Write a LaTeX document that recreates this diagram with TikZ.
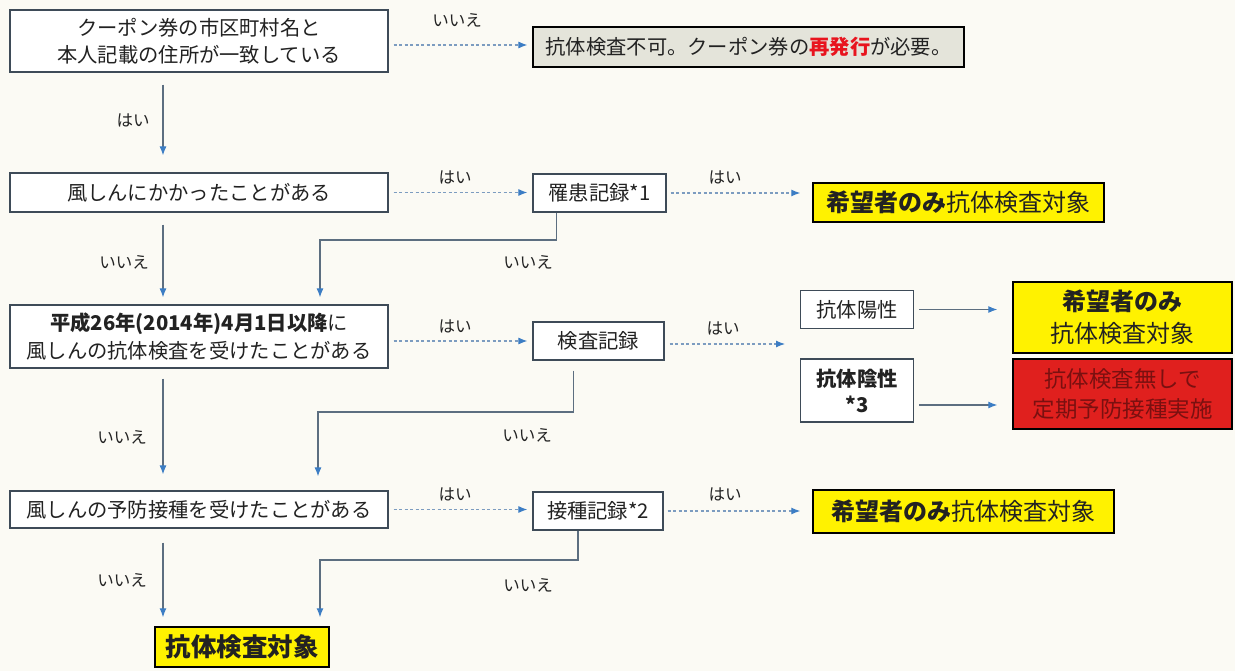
\documentclass[tikz,border=0pt]{standalone}
\usepackage{fontspec}
\setmainfont{Noto Sans CJK JP}
\usetikzlibrary{arrows.meta}
\definecolor{bg}{HTML}{FBFAF4}
\definecolor{edgec}{HTML}{3E4B58}
\definecolor{lineg}{HTML}{5C6E80}
\definecolor{tipb}{HTML}{3C7DC4}
\definecolor{dashb}{HTML}{7C9CC0}
\definecolor{greyfill}{HTML}{E4E4DA}
\definecolor{yel}{HTML}{FFF200}
\definecolor{redf}{HTML}{E0201E}
\definecolor{redt}{HTML}{7A1010}
\definecolor{redword}{HTML}{E8141E}
\definecolor{txt}{HTML}{222222}
\begin{document}
\begin{tikzpicture}[x=1pt,y=-1pt,
  box/.style={draw=edgec,line width=1.2pt,fill=white,inner sep=0pt,align=center,text=txt,font=\fontsize{20.3}{27}\selectfont},
  ybox/.style={box,fill=yel,draw=black,line width=1.5pt},
  lbl/.style={text=txt,font=\fontsize{16.5}{18}\selectfont},
  solarr/.style={draw=lineg,line width=1.1pt,-{Latex[length=9pt,width=7pt,color=tipb]}},
  dasharr/.style={draw=dashb,line width=1.1pt,dash pattern=on 3pt off 2.5pt,-{Latex[length=9pt,width=7pt,color=tipb]}}
]
\fill[bg] (0,0) rectangle (1235,671);
\useasboundingbox (0,0) rectangle (1235,671);

% nodes
\node[box,minimum width=378pt,minimum height=62pt] (A) at (199,41) {クーポン券の市区町村名と\\本人記載の住所が一致している};
\node[box,fill=greyfill,draw=black,minimum width=431pt,minimum height=40pt] (G) at (748.5,47) {抗体検査不可。クーポン券の{\bfseries\color{redword}再発行}が必要。};
\node[box,minimum width=378pt,minimum height=39pt] (B) at (199,192.5) {風しんにかかったことがある};
\node[box,minimum width=133pt,minimum height=38pt] (R) at (599.5,193) {罹患記録*1};
\node[ybox,minimum width=291pt,minimum height=39pt,font=\fontsize{24}{28}\selectfont] (Y1) at (958.5,202.5) {{\bfseries 希望者のみ}抗体検査対象};
\node[box,minimum width=378pt,minimum height=63pt,font=\fontsize{20.3}{28}\selectfont] (C) at (199,336.5) {{\bfseries 平成26年(2014年)4月1日以降}に\\風しんの抗体検査を受けたことがある};
\node[box,minimum width=131pt,minimum height=38pt] (K) at (598.5,341) {検査記録};
\node[box,minimum width=113pt,minimum height=38pt] (P) at (857,309.5) {抗体陽性};
\node[box,minimum width=113pt,minimum height=63pt,font=\bfseries\fontsize{20.3}{26}\selectfont] (N) at (857,390.5) {抗体陰性\\*3};
\node[ybox,minimum width=219pt,minimum height=71pt,font=\fontsize{24}{32}\selectfont] (Y2) at (1122.5,317.5) {{\bfseries 希望者のみ}\\抗体検査対象};
\node[box,fill=redf,draw=black,line width=1.5pt,text=redt,minimum width=219pt,minimum height=70pt,font=\fontsize{22.5}{30}\selectfont] (Rd) at (1122.5,394) {抗体検査無しで\\定期予防接種実施};
\node[box,minimum width=378pt,minimum height=37pt] (D) at (199,509.5) {風しんの予防接種を受けたことがある};
\node[box,minimum width=130pt,minimum height=38pt] (S) at (598,511) {接種記録*2};
\node[ybox,minimum width=301pt,minimum height=43pt,font=\fontsize{24}{28}\selectfont] (Y3) at (963.5,511.5) {{\bfseries 希望者のみ}抗体検査対象};
\node[ybox,minimum width=174pt,minimum height=40pt,font=\bfseries\fontsize{25.5}{28}\selectfont] (F) at (242,647) {抗体検査対象};

\coordinate (c1) at (163,0);
\coordinate (c2) at (320,0);
\coordinate (c3) at (318,0);
\coordinate (yA) at (0,45);
\coordinate (yN) at (0,405);
\coordinate (bendR) at (320,240);
\coordinate (bendK) at (318,412);
\coordinate (bendS) at (320,560);
\coordinate (kend) at (785,344);

% row A
\draw[dasharr,shorten <=5pt,shorten >=5pt] (A.east |- yA) -- (G.west |- yA);
\node[lbl] (lA) at (457,20) {いいえ};
\draw[solarr,shorten <=12pt,shorten >=17pt] (A.south -| c1) -- (B.north -| c1);
\node[lbl] (lA2) at (133,120) {はい};

% row B
\draw[dasharr,shorten <=5pt,shorten >=5pt] (B.east) -- (R.west |- B.east);
\node[lbl] (lB1) at (455,177) {はい};
\draw[dasharr,shorten <=4pt,shorten >=12pt] (R.east) -- (Y1.west |- R.east);
\node[lbl] (lB2) at (725,177) {はい};
\draw[solarr,shorten <=12pt,shorten >=7pt] (B.south -| c1) -- (C.north -| c1);
\node[lbl] (lB3) at (124,262) {いいえ};
\draw[solarr,shorten >=7pt] ([xshift=-43pt]R.south) |- (bendR) -- (C.north -| c2);
\node[lbl] (lB4) at (528,262) {いいえ};

% row C
\draw[dasharr,shorten <=5pt,shorten >=5pt] (C.east |- K.west) -- (K.west);
\node[lbl] (lC1) at (455,326) {はい};
\draw[dasharr,shorten <=5pt] (K.east |- kend) -- (kend);
\node[lbl] (lC2) at (723,328) {はい};
\draw[solarr,shorten <=5pt,shorten >=15pt] (P.east) -- (Y2.west |- P.east);
\draw[solarr,shorten <=5pt,shorten >=15pt] (N.east |- yN) -- (Rd.west |- yN);
\draw[solarr,shorten <=10pt,shorten >=16pt] (C.south -| c1) -- (D.north -| c1);
\node[lbl] (lC3) at (122,437) {いいえ};
\draw[solarr,shorten <=10pt,shorten >=14pt] ([xshift=-25pt]K.south) |- (bendK) -- (D.north -| c3);
\node[lbl] (lC4) at (527,435) {いいえ};

% row D
\draw[dasharr,shorten <=5pt,shorten >=5pt] (D.east) -- (S.west |- D.east);
\node[lbl] (lD1) at (455,494) {はい};
\draw[dasharr,shorten <=4pt,shorten >=12pt] (S.east) -- (Y3.west |- S.east);
\node[lbl] (lD2) at (725,494) {はい};
\draw[solarr,shorten <=14pt,shorten >=9pt] (D.south -| c1) -- (F.north -| c1);
\node[lbl] (lD3) at (122,580) {いいえ};
\draw[solarr,shorten >=9pt] ([xshift=-20pt]S.south) |- (bendS) -- (F.north -| c2);
\node[lbl] (lD4) at (528,585) {いいえ};
\end{tikzpicture}
\end{document}
